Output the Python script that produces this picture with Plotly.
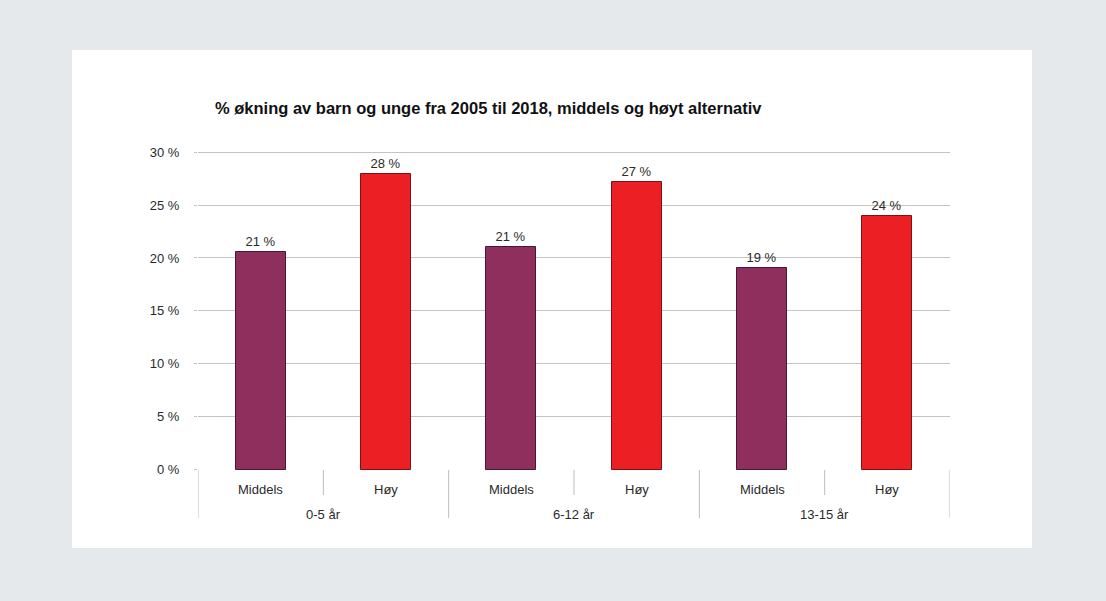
import plotly.graph_objects as go

groups = ["0-5 år", "6-12 år", "13-15 år"]
series_names = ["Middels", "Høy"]
middels = [20.6, 21.0, 19.1]
hoy = [27.9, 27.2, 24.0]
y_ticks = [0, 5, 10, 15, 20, 25, 30]
y_tick_labels = [f"{v} %" for v in y_ticks]
title = "% økning av barn og unge fra 2005 til 2018, middels og høyt alternativ"

colors = {"Middels": "#8e2f5e", "Høy": "#ec2024"}
outlines = {"Middels": "#4a1830", "Høy": "#7a1414"}
font_family = "Liberation Sans, Arial, sans-serif"
text_color = "#2a2a2a"

n = len(groups)
x_mid = [2 * i for i in range(n)]
x_hoy = [2 * i + 1 for i in range(n)]

fig = go.Figure()
for name, xs, vals in [("Middels", x_mid, middels), ("Høy", x_hoy, hoy)]:
    fig.add_trace(go.Bar(
        x=xs, y=vals, name=name, width=0.4,
        marker=dict(color=colors[name], line=dict(color=outlines[name], width=1)),
        texttemplate="%{y:.0f} %", textposition="outside",
        textfont=dict(family=font_family, size=13, color=text_color),
        cliponaxis=False,
    ))

shapes = []
# white panel
shapes.append(dict(type="rect", xref="paper", yref="paper", x0=-0.1676, x1=1.109,
                   y0=-0.243, y1=1.3084, fillcolor="white", line=dict(width=0), layer="below"))
# separators: within groups (short) and between groups (long)
for i in range(n):
    shapes.append(dict(type="line", xref="x", yref="paper", x0=2 * i + 0.5, x1=2 * i + 0.5,
                       y0=0, y1=-0.078, line=dict(color="#bdbdbd", width=1)))
for i in range(n + 1):
    shapes.append(dict(type="line", xref="x", yref="paper", x0=2 * i - 0.5, x1=2 * i - 0.5,
                       y0=0, y1=-0.1495, line=dict(color="#bdbdbd", width=1)))

annotations = [dict(x=0.0, y=1.1277, xref="paper", yref="paper", xanchor="left", yanchor="middle",
                    text=f"<b>{title}</b>", showarrow=False,
                    font=dict(family=font_family, size=16.5, color="#111111"), xshift=15)]
for i, g in enumerate(groups):
    annotations.append(dict(x=2 * i + 0.5, y=-0.138, xref="x", yref="paper", text=g, showarrow=False,
                            xanchor="center", yanchor="middle",
                            font=dict(family=font_family, size=13, color=text_color)))
    for j, s in enumerate(series_names):
        annotations.append(dict(x=2 * i + j, y=-0.0592, xref="x", yref="paper", text=s, showarrow=False,
                                xanchor="center", yanchor="middle",
                                font=dict(family=font_family, size=13, color=text_color)))

fig.update_layout(
    width=1106, height=601,
    margin=dict(l=198, r=156, t=149, b=131),
    paper_bgcolor="#e6e9ec", plot_bgcolor="white",
    showlegend=False, bargap=0,
    shapes=shapes, annotations=annotations,
    xaxis=dict(range=[-0.5, 2 * n - 0.5], showticklabels=False, showgrid=False, zeroline=False,
               showline=False, ticks=""),
    yaxis=dict(range=[-0.04, 30.3], tickvals=y_ticks, ticktext=y_tick_labels,
               showgrid=True, gridcolor="#c4c4c4", gridwidth=1, zeroline=False,
               showline=False, ticks="outside", ticklen=3, tickcolor="#c4c4c4",
               ticklabelstandoff=12,
               tickfont=dict(family=font_family, size=13, color=text_color)),
)

fig.write_html("out.html", config={"displayModeBar": False},
               post_script="document.body.style.margin='0';document.body.style.background='#e6e9ec';")
